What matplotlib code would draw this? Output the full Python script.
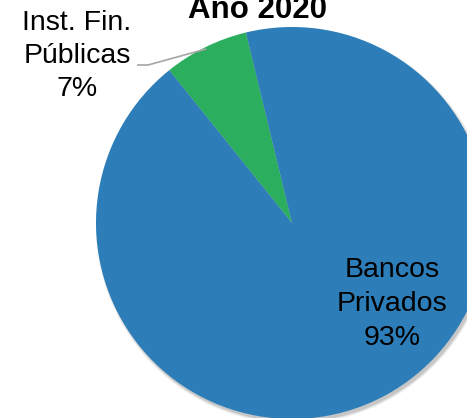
import numpy as np
import matplotlib
matplotlib.use("Agg")
import matplotlib.pyplot as plt
from matplotlib.patches import Circle

categories = ["Inst. Fin.\nPúblicas", "Bancos\nPrivados"]
values = [7, 93]
pct_labels = ["7%", "93%"]
title = "Año 2020"
colors = ["#2BAF5F", "#2C7DB8"]

plt.rcParams['font.family'] = ['Liberation Sans', 'DejaVu Sans']

W, H = 467, 418
fig = plt.figure(figsize=(W / 100, H / 100), dpi=100)
ax = fig.add_axes([0, 0, 1, 1])

cx, cy, r = 292, 195, 196

# soft shadow
for i, a in enumerate([0.06, 0.08, 0.10]):
    ax.add_patch(Circle((cx + 2, cy - 3), r + 2 - i, color="black", alpha=a, lw=0, zorder=0))

wedges, _ = ax.pie(values, colors=colors, startangle=103.6, counterclock=True,
                   center=(cx, cy), radius=r, frame=True,
                   wedgeprops=dict(linewidth=0, zorder=1))

ax.set_xlim(0, W)
ax.set_ylim(0, H)
ax.set_aspect('equal')
ax.axis('off')

fs = 20.5
# big slice label inside
ax.text(392, 114, f"{categories[1]}\n{pct_labels[1]}", ha='center', va='center',
        fontsize=fs, color='black', linespacing=1.4, zorder=3)
# small slice label outside with leader
ax.text(77, 362, f"{categories[0]}\n{pct_labels[0]}", ha='center', va='center',
        fontsize=fs, color='black', linespacing=1.34, zorder=3)
w = wedges[0]
mid = np.deg2rad((w.theta1 + w.theta2) / 2)
ex, ey = cx + (r - 2) * np.cos(mid), cy + (r - 2) * np.sin(mid)
ax.plot([137, 148, ex], [353, 353, ey], color="#A6A6A6", lw=1.2, zorder=2,
        solid_capstyle='butt')

ax.text(257, 400, title, ha='center', va='baseline', fontsize=22.5,
        fontweight='bold', color='black', zorder=3)

fig.savefig("out.png", dpi=100)
